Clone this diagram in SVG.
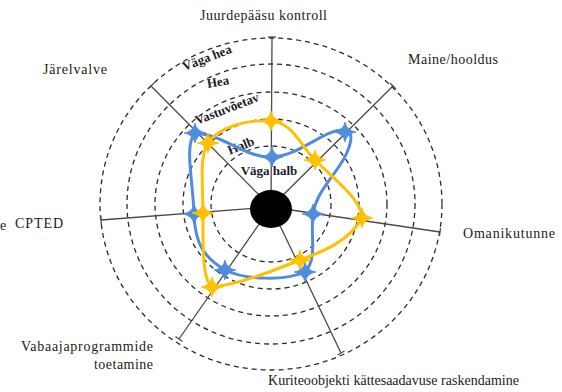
<svg xmlns="http://www.w3.org/2000/svg" width="562" height="392" viewBox="0 0 562 392">
<style>
.ring{fill:none;stroke:#2a2a2a;stroke-width:1.3;stroke-dasharray:5 4}
.spoke{stroke:#4a4a4a;stroke-width:1.3;fill:none}
.lab{font-family:"Liberation Serif","Times New Roman",serif;font-size:14px;fill:#1a1a1a}
.lvl{font-family:"Liberation Serif","Times New Roman",serif;font-size:13px;font-weight:bold;fill:#1c1c28}
.blue{fill:none;stroke:#4f8ddb;stroke-width:3}
.yel{fill:none;stroke:#ffc000;stroke-width:3}
</style>
<defs>
<path id="star" d="M0,-10 Q1.6,-1.6 11,0 Q1.6,1.6 0,10 Q-1.6,1.6 -11,0 Q-1.6,-1.6 0,-10 Z"/>
</defs>
<rect width="562" height="392" fill="#ffffff"/>
<g id="grid">
<ellipse class="ring" cx="271" cy="204" rx="60" ry="58"/>
<ellipse class="ring" cx="271" cy="204" rx="88" ry="85"/>
<ellipse class="ring" cx="271" cy="204" rx="116" ry="112"/>
<ellipse class="ring" cx="271" cy="204" rx="144" ry="140"/>
<ellipse class="ring" cx="271" cy="204" rx="171" ry="166"/>
</g>
<g id="connectors">
<line class="spoke" x1="271" y1="207" x2="272" y2="37"/>
<line class="spoke" x1="271" y1="207" x2="393" y2="86"/>
<line class="spoke" x1="271" y1="207" x2="440" y2="232"/>
<line class="spoke" x1="271" y1="207" x2="341" y2="353"/>
<line class="spoke" x1="271" y1="207" x2="179" y2="339"/>
<line class="spoke" x1="271" y1="207" x2="101" y2="220"/>
<line class="spoke" x1="271" y1="207" x2="151" y2="86"/>
<line class="spoke" x1="268" y1="37" x2="276" y2="37"/>
<line class="spoke" x1="390" y1="83" x2="396" y2="89"/>
<line class="spoke" x1="440.5" y1="228" x2="439.5" y2="236"/>
<line class="spoke" x1="337.5" y1="355" x2="344.5" y2="351"/>
<line class="spoke" x1="175.5" y1="336.5" x2="182.5" y2="341.5"/>
<line class="spoke" x1="100.7" y1="216" x2="101.3" y2="224"/>
<line class="spoke" x1="148" y1="89" x2="154" y2="83"/>
</g>
<g id="hub">
<ellipse cx="271" cy="209" rx="21" ry="19" fill="#000"/>
</g>
<g id="levels">
<text class="lvl" x="207" y="62" text-anchor="middle" transform="rotate(-21 207 58)">Väga hea</text>
<text class="lvl" x="218" y="86" text-anchor="middle" transform="rotate(-10 218 82)">Hea</text>
<text class="lvl" x="227" y="113" text-anchor="middle" transform="rotate(-21 227 109)">Vastuvõetav</text>
<text class="lvl" x="241" y="150" text-anchor="middle" transform="rotate(-22 241 146)">Halb</text>
<text class="lvl" x="269" y="175" text-anchor="middle">Väga halb</text>
</g>
<g id="series-blue">
<path class="blue" d="M195,133 C225,135 245,158 272,157 C300,156 325,128 345,130 C356,131 350,150 340,165 C328,183 316,195 313,214 C310,235 318,258 305,272 C285,281 245,280 225,270 C205,258 195,245 194,214 C193,180 184,145 195,133 Z"/>
<g fill="#4f8ddb" stroke="#4f8ddb" stroke-width="0.8">
<use href="#star" x="195" y="133"/>
<use href="#star" x="272" y="157"/>
<use href="#star" x="345" y="132"/>
<use href="#star" x="313" y="214"/>
<use href="#star" x="305" y="272"/>
<use href="#star" x="225" y="270"/>
<use href="#star" x="194" y="214"/>
</g>
</g>
<g id="series-yellow">
<path class="yel" d="M271,121 C245,119 218,128 208,143 C199,158 203,185 203,213 C203,245 202,280 212,287 C240,284 270,272 300,260 C325,251 350,240 362,218 C362,200 335,180 315,160 C300,145 292,122 271,121 Z"/>
<g fill="#ffc000" stroke="#ffc000" stroke-width="0.8">
<use href="#star" x="271" y="121"/>
<use href="#star" x="315" y="160"/>
<use href="#star" x="362" y="218"/>
<use href="#star" x="300" y="260"/>
<use href="#star" x="212" y="287"/>
<use href="#star" x="203" y="213"/>
<use href="#star" x="208" y="143"/>
</g>
</g>
<g id="labels">
<text class="lab" x="200" y="20" textLength="127" lengthAdjust="spacing">Juurdepääsu kontroll</text>
<text class="lab" x="408" y="64" textLength="90" lengthAdjust="spacing">Maine/hooldus</text>
<text class="lab" x="463" y="238" textLength="92" lengthAdjust="spacing">Omanikutunne</text>
<text class="lab" x="268" y="385" textLength="251" lengthAdjust="spacing">Kuriteoobjekti kättesaadavuse raskendamine</text>
<text class="lab" x="21" y="351" textLength="132" lengthAdjust="spacing">Vabaajaprogrammide</text>
<text class="lab" x="94" y="369" textLength="59" lengthAdjust="spacing">toetamine</text>
<text class="lab" x="15" y="228" textLength="48" lengthAdjust="spacing">CPTED</text>
<text class="lab" x="0" y="230">e</text>
<text class="lab" x="43" y="74" textLength="64" lengthAdjust="spacing">Järelvalve</text>
</g>
</svg>
